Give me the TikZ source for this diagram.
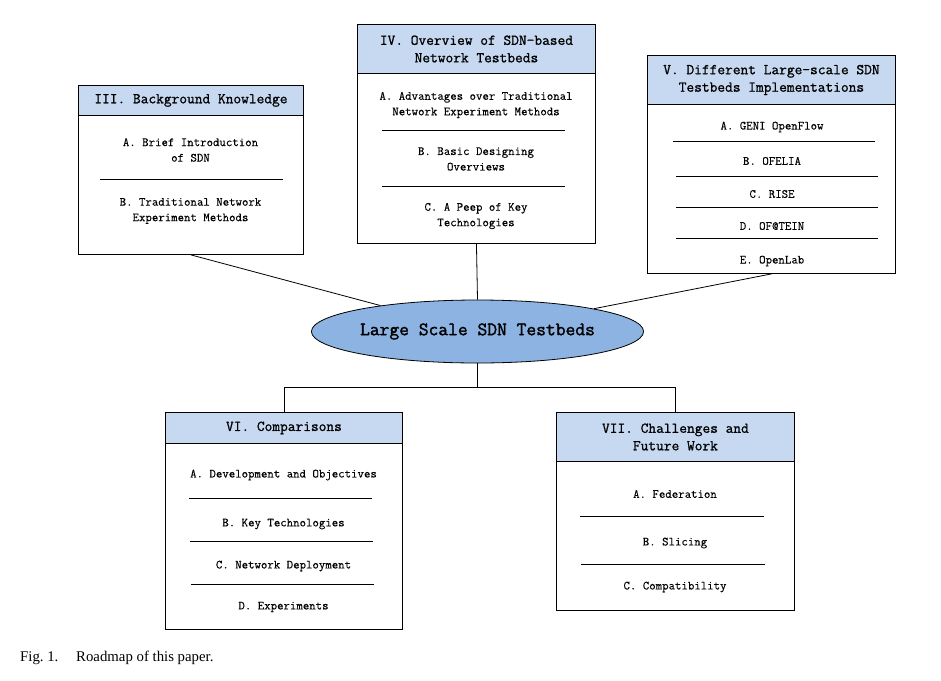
\documentclass[tikz,border=0pt]{standalone}
\usepackage{fontspec}
\newfontfamily\capfont{Liberation Serif}
\newfontfamily\itemfont[FakeBold=0.25]{Latin Modern Mono}
\newfontfamily\hdrfont[FakeBold=1]{Latin Modern Mono}
\newfontfamily\ellfont[FakeBold=1.6]{Latin Modern Mono}
\usetikzlibrary{shapes.geometric}
\definecolor{hdrblue}{HTML}{C6D9F1}
\definecolor{ellblue}{HTML}{8DB3E2}
\tikzset{
  body/.style={draw=black, line width=0.9pt, fill=white, anchor=north west, inner sep=0pt},
  hdr/.style={draw=black, line width=0.9pt, fill=hdrblue, anchor=north west, inner sep=0pt,
    align=center, font=\hdrfont\fontsize{15}{17.5}\selectfont},
  item/.style={align=center, inner sep=0pt, font=\itemfont\fontsize{12.5}{15.5}\selectfont},
  sep/.style={line width=0.9pt},
  conn/.style={line width=0.8pt}
}
\begin{document}
\begin{tikzpicture}[x=1pt,y=-1pt]
\useasboundingbox (0,0) rectangle (941,680);
% Box III
\node[body, minimum width=225, minimum height=169] (b3) at (78,85) {};
\node[hdr, minimum width=225, minimum height=30] (h3) at (78,85) {III. Background Knowledge};
\node[item] (b3a) at (190.5,150) {A. Brief Introduction\\of SDN};
\draw[sep] (100,179) -- (283,179);
\node[item] (b3b) at (190.5,211) {B. Traditional Network\\Experiment Methods};
% Box IV
\node[body, minimum width=238, minimum height=219] (b4) at (357,24) {};
\node[hdr, minimum width=238, minimum height=49] (h4) at (357,24) {IV. Overview of SDN-based\\Network Testbeds};
\node[item] (b4a) at (476,105) {A. Advantages over Traditional\\Network Experiment Methods};
\draw[sep] (382,130) -- (565,130);
\node[item] (b4b) at (476,159) {B. Basic Designing\\Overviews};
\draw[sep] (382,186) -- (565,186);
\node[item] (b4c) at (476,216) {C. A Peep of Key\\Technologies};
% Box V
\node[body, minimum width=248, minimum height=218] (b5) at (647,55) {};
\node[hdr, minimum width=248, minimum height=49] (h5) at (647,55) {V. Different Large-scale SDN\\Testbeds Implementations};
\node[item] (b5a) at (772,127) {A. GENI OpenFlow};
\draw[sep] (673,141) -- (875,141);
\node[item] (b5b) at (772,161) {B. OFELIA};
\draw[sep] (676,176) -- (878,176);
\node[item] (b5c) at (772,194) {C. RISE};
\draw[sep] (676,207) -- (878,207);
\node[item] (b5d) at (772,226) {D. OF@TEIN};
\draw[sep] (676,238) -- (878,238);
\node[item] (b5e) at (772,261) {E. OpenLab};
% Ellipse
\node[ellipse, draw=black, line width=0.8pt, fill=ellblue, minimum width=331, minimum height=63, inner sep=0pt,
  font=\ellfont\fontsize{19}{22}\selectfont] (e) at (477.5,331.5) {\raisebox{-1.5pt}{Large Scale SDN Testbeds}};
% Box VI
\node[body, minimum width=237, minimum height=217] (b6) at (165,412) {};
\node[hdr, minimum width=237, minimum height=31] (h6) at (165,412) {VI. Comparisons};
\node[item] (b6a) at (283.5,475) {A. Development and Objectives};
\draw[sep] (189,498) -- (372,498);
\node[item] (b6b) at (283.5,524) {B. Key Technologies};
\draw[sep] (190,541) -- (373,541);
\node[item] (b6c) at (283.5,566) {C. Network Deployment};
\draw[sep] (191,584) -- (374,584);
\node[item] (b6d) at (283.5,607) {D. Experiments};
% Box VII
\node[body, minimum width=238, minimum height=198] (b7) at (556,412) {};
\node[hdr, minimum width=238, minimum height=49] (h7) at (556,412) {VII. Challenges and\\Future Work};
\node[item] (b7a) at (675,494) {A. Federation};
\draw[sep] (580,516) -- (764,516);
\node[item] (b7b) at (675,543) {B. Slicing};
\draw[sep] (581,564) -- (765,564);
\node[item] (b7c) at (675,587) {C. Compatibility};
% Connectors
\draw[conn] (b3.south) -- (e);
\draw[conn] (b4.south) -- (e.north);
\draw[conn] (b5.south) -- (e);
\draw[conn] (e.south) -- ++(0,24) coordinate (j);
\draw[conn] (b6.north) |- (j) -| (b7.north);
% Caption
\node[anchor=west, inner sep=0pt, font=\capfont\fontsize{14.8}{17}\selectfont] (cap) at (20,658) {Fig.~1.\hspace{1.2em}Roadmap of this paper.};
\end{tikzpicture}
\end{document}
